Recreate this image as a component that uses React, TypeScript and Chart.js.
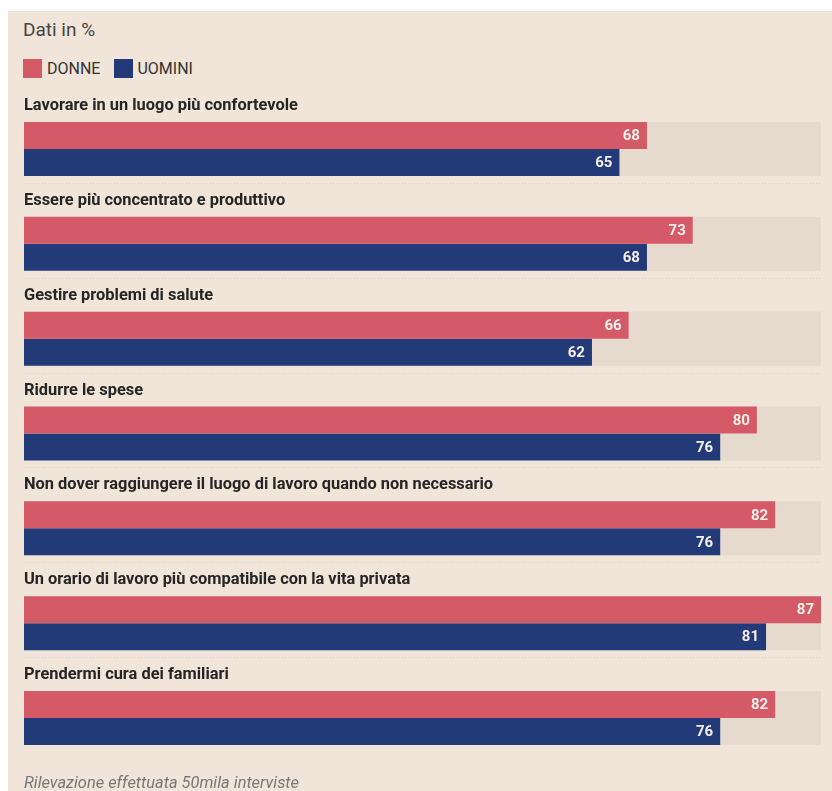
import { useEffect, useRef } from "react";
import { Chart, registerables } from "chart.js";

Chart.register(...registerables);

const categories = [
  "Lavorare in un luogo più confortevole",
  "Essere più concentrato e produttivo",
  "Gestire problemi di salute",
  "Ridurre le spese",
  "Non dover raggiungere il luogo di lavoro quando non necessario",
  "Un orario di lavoro più compatibile con la vita privata",
  "Prendermi cura dei familiari",
];
const donne = [68, 73, 66, 80, 82, 87, 82];
const uomini = [65, 68, 62, 76, 76, 81, 76];
const seriesNames = ["DONNE", "UOMINI"];
const scaleMax = 87;
const title = "Dati in %";
const footnote = "Rilevazione effettuata 50mila interviste";

const RED = "#d55a68";
const BLUE = "#233a78";
const TRACK = "#e5dacd";
const BG = "#f0e5d8";
const FONT = "Roboto, 'Noto Sans', sans-serif";

const decorPlugin = {
  id: "decor",
  beforeDatasetsDraw(chart: any) {
    const ctx = chart.ctx;
    const xs = chart.scales.x;
    const m0 = chart.getDatasetMeta(0);
    const m1 = chart.getDatasetMeta(1);
    const x0 = xs.getPixelForValue(0);
    const x1 = xs.getPixelForValue(scaleMax);
    ctx.save();
    m0.data.forEach((bar: any, i: number) => {
      const b0 = bar.getProps(["y", "height"], true);
      const b1 = m1.data[i].getProps(["y", "height"], true);
      const top = b0.y - b0.height / 2;
      const bottom = b1.y + b1.height / 2;
      ctx.fillStyle = TRACK;
      ctx.fillRect(x0, top, x1 - x0, bottom - top);
      ctx.fillStyle = "#252525";
      ctx.font = `bold 16.4px ${FONT}`;
      ctx.textAlign = "left";
      ctx.textBaseline = "middle";
      ctx.fillText(categories[i], x0, top - 16);
      if (i < m0.data.length - 1) {
        ctx.beginPath();
        ctx.setLineDash([1, 2]);
        ctx.strokeStyle = "#dcd1c4";
        ctx.lineWidth = 1;
        ctx.moveTo(x0, Math.round(bottom + 7) + 0.5);
        ctx.lineTo(x1, Math.round(bottom + 7) + 0.5);
        ctx.stroke();
        ctx.setLineDash([]);
      }
    });
    ctx.restore();
  },
  afterDatasetsDraw(chart: any) {
    const ctx = chart.ctx;
    ctx.save();
    ctx.font = `bold 15px ${FONT}`;
    ctx.fillStyle = "#f6efe9";
    ctx.textAlign = "right";
    ctx.textBaseline = "middle";
    chart.data.datasets.forEach((ds: any, di: number) => {
      const meta = chart.getDatasetMeta(di);
      meta.data.forEach((bar: any, i: number) => {
        const p = bar.getProps(["x", "y"], true);
        ctx.fillText(String(ds.data[i]), p.x - 7, p.y + 1);
      });
    });
    ctx.restore();
  },
};

export default function App() {
  const ref = useRef<HTMLCanvasElement>(null);
  useEffect(() => {
    if (!ref.current) return;
    const chart = new Chart(ref.current, {
      type: "bar",
      data: {
        labels: categories,
        datasets: [
          { label: seriesNames[0], data: donne, backgroundColor: RED, borderWidth: 0 },
          { label: seriesNames[1], data: uomini, backgroundColor: BLUE, borderWidth: 0 },
        ],
      },
      options: {
        indexAxis: "y",
        responsive: false,
        maintainAspectRatio: false,
        animation: false,
        events: [],
        layout: { padding: { left: 16, right: 11, top: 13.6, bottom: 12.6 } },
        datasets: { bar: { categoryPercentage: 0.5694, barPercentage: 1 } },
        scales: {
          x: { display: false, min: 0, max: scaleMax },
          y: { display: false },
        },
        plugins: { legend: { display: false }, tooltip: { enabled: false } },
      },
      plugins: [decorPlugin],
    } as any);
    return () => chart.destroy();
  }, []);

  return (
    <div
      style={{
        position: "absolute",
        left: 8,
        top: 11,
        width: 824,
        height: 780,
        background: BG,
        overflow: "hidden",
        fontFamily: FONT,
      }}
    >
      <div style={{ position: "absolute", left: 15, top: 9, fontSize: 19, lineHeight: "20px", color: "#444" }}>
        {title}
      </div>
      <div style={{ position: "absolute", left: 15, top: 48, height: 19, display: "flex", alignItems: "center" }}>
        <span style={{ width: 19, height: 19, background: RED, display: "inline-block" }} />
        <span style={{ marginLeft: 5, fontSize: 16, color: "#333", lineHeight: "19px" }}>{seriesNames[0]}</span>
        <span style={{ width: 19, height: 19, background: BLUE, display: "inline-block", marginLeft: 14 }} />
        <span style={{ marginLeft: 4, fontSize: 16, color: "#333", lineHeight: "19px" }}>{seriesNames[1]}</span>
      </div>
      <canvas ref={ref} width={824} height={690} style={{ position: "absolute", left: 0, top: 77, width: 824, height: 690 }} />
      <div
        style={{
          position: "absolute",
          left: 16,
          top: 762,
          fontSize: 16.4,
          fontStyle: "italic",
          lineHeight: "20px",
          color: "#777",
        }}
      >
        {footnote}
      </div>
    </div>
  );
}
